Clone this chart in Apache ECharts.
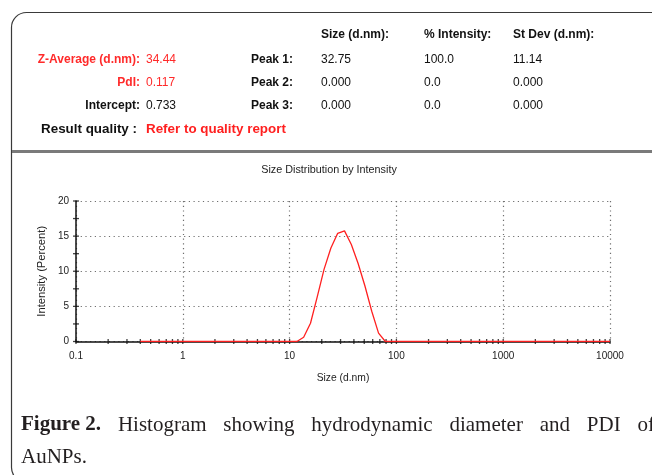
<!DOCTYPE html>
<html><head><meta charset="utf-8">
<script src="https://cdn.jsdelivr.net/npm/echarts@6/dist/echarts.min.js"></script>
<style>html,body{margin:0;padding:0;background:#fff}#c{width:652px;height:475px}</style>
</head><body><div id="c"></div>
<script>
// Size bins (d.nm) and intensity (%)
const sizes = [0.4,0.4632,0.5365,0.6213,0.7195,0.8332,0.9649,1.117,1.294,1.499,1.736,
  2.010,2.328,2.696,3.122,3.615,4.187,4.849,5.615,6.503,7.531,8.721,
  10.10,11.70,13.54,15.69,18.17,21.04,24.36,28.21,32.67,37.84,43.82,50.75,58.77,68.06,78.82,
  91.28,105.7,122.4,141.8,164.2,190.1,220.2,255.0,295.3,342.0,396.1,458.7,531.2,615.1,712.4,825.0,955.4,
  1106,1281,1484,1718,1990,2305,2669,3091,3580,4145,4801,5560,6439,7456,8635,10000];
const intensity = [0,0,0,0,0,0,0,0,0,0,0,
  0,0,0,0,0,0,0,0,0,0,0,
  0,0,0.6,2.6,6.4,10.3,13.3,15.4,15.75,13.8,11.1,7.9,4.3,1.2,0,
  0,0,0,0,0,0,0,0,0,0,0,0,0,0,0,0,0,
  0,0,0,0,0,0,0,0,0,0,0,0,0,0,0,0];
const xMinorTicks = [0.1,0.2,0.3,0.4,0.5,0.6,0.7,0.8,0.9,1,2,3,4,5,6,7,8,9,10,20,30,40,50,60,70,80,90,
  100,200,300,400,500,600,700,800,900,1000,2000,3000,4000,5000,6000,7000,8000,9000,10000];
const yMinorTicks = [0,2.5,5,7.5,10,12.5,15,17.5,20];

const statHeaders = ['Size (d.nm):','% Intensity:','St Dev (d.nm):'];
const peakLabels = ['Peak 1:','Peak 2:','Peak 3:'];
const peakSizes = ['32.75','0.000','0.000'];
const peakIntensity = ['100.0','0.0','0.0'];
const peakStDev = ['11.14','0.000','0.000'];
const summaryLabels = ['Z-Average (d.nm):','PdI:','Intercept:'];
const summaryValues = ['34.44','0.117','0.733'];
const summaryRed = [true,true,false];
const captionBold = 'Figure 2.';
const captionLine1 = ['Histogram','showing','hydrodynamic','diameter','and','PDI','of'];
const captionLine2 = 'AuNPs.';

const chart = echarts.init(document.getElementById('c'), null, {renderer:'canvas'});
const F = 'Liberation Sans, Arial, sans-serif';
const SERIF = 'Liberation Serif, Times New Roman, serif';
const RED = '#ff2a2a';
const g = [];
g.push({type:'rect', shape:{x:11.5,y:12.5,width:700,height:470,r:15}, style:{fill:'none',stroke:'#3a3a3a',lineWidth:1.2}, z:1});
g.push({type:'rect', shape:{x:12,y:150,width:640,height:3}, style:{fill:'#7a7a7a'}, z:1});
const colX = [321,424,513];
statHeaders.forEach((t,i)=>g.push({type:'text', x:colX[i], y:35, style:{text:t, fill:'#111', font:'bold 12px '+F, verticalAlign:'middle'}}));
const rowY = [60,83,106];
for (let i=0;i<3;i++){
  g.push({type:'text', x:140, y:rowY[i], style:{text:summaryLabels[i], fill: summaryRed[i]?RED:'#111', font:'bold 12px '+F, align:'right', verticalAlign:'middle'}});
  g.push({type:'text', x:146, y:rowY[i], style:{text:summaryValues[i], fill: summaryRed[i]?RED:'#111', font:'12px '+F, verticalAlign:'middle'}});
  g.push({type:'text', x:251, y:rowY[i], style:{text:peakLabels[i], fill:'#111', font:'bold 12px '+F, verticalAlign:'middle'}});
  g.push({type:'text', x:colX[0], y:rowY[i], style:{text:peakSizes[i], fill:'#111', font:'12px '+F, verticalAlign:'middle'}});
  g.push({type:'text', x:colX[1], y:rowY[i], style:{text:peakIntensity[i], fill:'#111', font:'12px '+F, verticalAlign:'middle'}});
  g.push({type:'text', x:colX[2], y:rowY[i], style:{text:peakStDev[i], fill:'#111', font:'12px '+F, verticalAlign:'middle'}});
}
g.push({type:'text', x:137, y:129, style:{text:'Result quality :', fill:'#111', font:'bold 13.4px '+F, align:'right', verticalAlign:'middle'}});
g.push({type:'text', x:146, y:129, style:{text:'Refer to quality report', fill:'#ff2020', font:'bold 13.4px '+F, verticalAlign:'middle'}});

// plot title
g.push({type:'text', x:329, y:170, style:{text:'Size Distribution by Intensity', fill:'#222', font:'10.8px '+F, align:'center', verticalAlign:'middle'}});

// justified caption line
const ctx = document.createElement('canvas').getContext('2d');
const capBoldFont = 'bold 21px ' + SERIF, capFont = '21px ' + SERIF;
ctx.font = capBoldFont; const wBold = ctx.measureText(captionBold).width;
ctx.font = capFont;
const wWords = captionLine1.map(w=>ctx.measureText(w).width);
const lineStart = 21, lineEnd = 655;
const totalW = wBold + wWords.reduce((a,b)=>a+b,0);
const gap = (lineEnd - lineStart - totalW) / captionLine1.length;
g.push({type:'text', x:lineStart, y:425, style:{text:captionBold, font:capBoldFont, fill:'#231f20', verticalAlign:'middle'}});
let cx = lineStart + wBold + gap;
captionLine1.forEach((w,i)=>{
  g.push({type:'text', x:cx, y:425, style:{text:w, font:capFont, fill:'#231f20', verticalAlign:'middle'}});
  cx += wWords[i] + gap;
});
g.push({type:'text', x:21, y:457, style:{text:captionLine2, font:capFont, fill:'#231f20', verticalAlign:'middle'}});

const option = {
  animation:false,
  backgroundColor:'#fff',
  grid:{left:76, right:42, top:201, bottom:133.5},
  xAxis:{type:'log', logBase:10, min:0.1, max:10000,
    name:'Size (d.nm)', nameLocation:'middle', nameGap:32, nameTextStyle:{fontFamily:F, fontSize:10.3, color:'#222'},
    axisLine:{lineStyle:{color:'#111', width:1.5}},
    axisTick:{show:false},
    axisLabel:{fontFamily:F, fontSize:10, color:'#222', margin:10, formatter:v=>String(v)},
    splitLine:{show:true, lineStyle:{type:[1.2,3.5], color:'#6e6e6e', width:1.2}}},
  yAxis:{type:'value', min:0, max:20, interval:5,
    name:'Intensity (Percent)', nameLocation:'middle', nameGap:24, nameTextStyle:{fontFamily:F, fontSize:11.2, color:'#222'},
    axisLine:{show:true, lineStyle:{color:'#111', width:1.5}},
    axisTick:{show:false},
    axisLabel:{fontFamily:F, fontSize:10, color:'#222', margin:7},
    splitLine:{show:true, lineStyle:{type:[1.2,3.5], color:'#6e6e6e', width:1.2}}},
  series:[
    {type:'scatter', data:xMinorTicks.map(v=>[v,0]), symbol:'rect', symbolSize:[1.3,5], itemStyle:{color:'#111'}, silent:true, clip:false, z:3},
    {type:'scatter', data:yMinorTicks.map(v=>[0.1,v]), symbol:'rect', symbolSize:[6,1.3], itemStyle:{color:'#111'}, silent:true, clip:false, z:3},
    {type:'line', data:sizes.map((s,i)=>[s,intensity[i]]), showSymbol:false, symbol:'none', lineStyle:{color:'#ff2020', width:1.3}, z:4}
  ],
  graphic:g
};
chart.setOption(option);
</script></body></html>
